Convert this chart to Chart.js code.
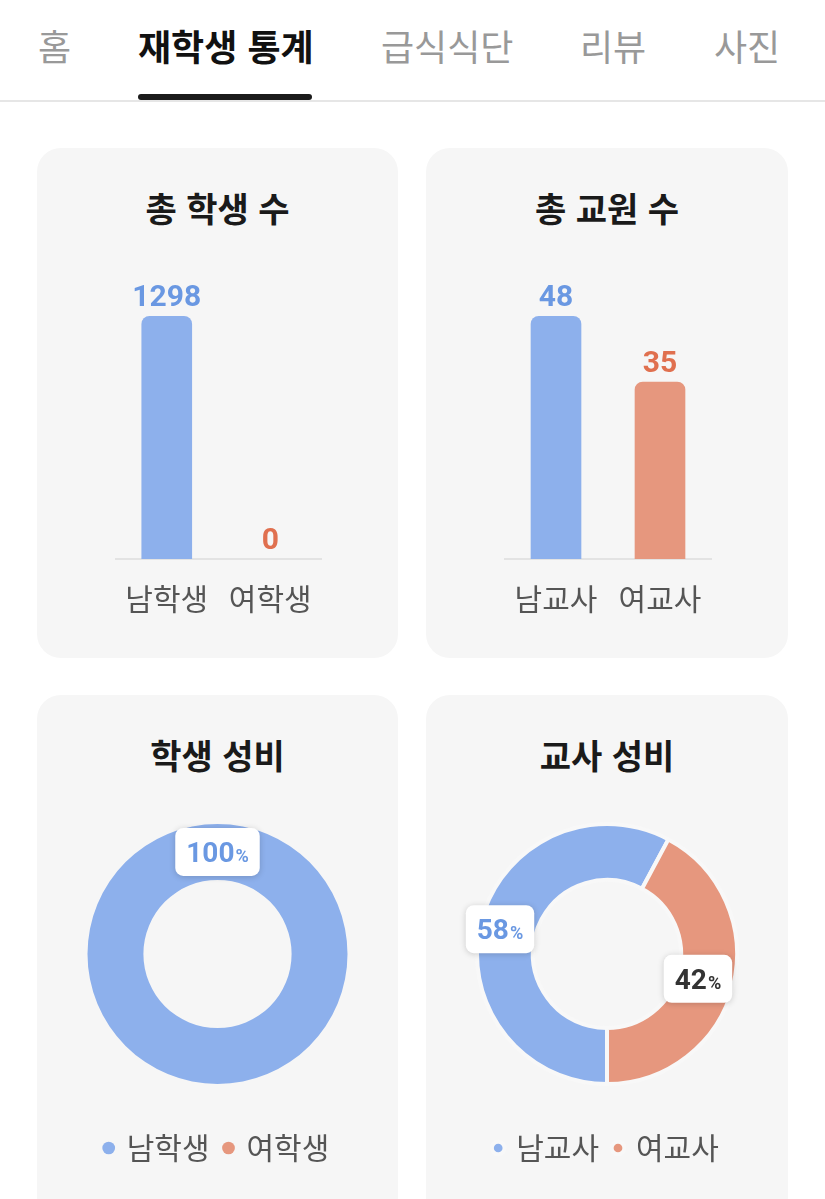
<!DOCTYPE html>
<html lang="ko">
<head>
<meta charset="utf-8">
<title>재학생 통계</title>
<script src="https://cdn.jsdelivr.net/npm/chart.js@4.4.1/dist/chart.umd.min.js"></script>
<style>
  body {
    margin: 0;
    width: 825px;
    height: 1199px;
    overflow: hidden;
    background: #fff;
    position: relative;
    font-family: "Noto Sans CJK KR", "Noto Sans", sans-serif;
  }
  .tab {
    position: absolute;
    top: 20px;
    height: 50px;
    line-height: 50px;
    font-size: 36px;
    color: #999;
    white-space: nowrap;
  }
  .tab.on { color: #111; font-weight: bold; }
  .tabbar {
    position: absolute;
    left: 138px; top: 94px;
    width: 174px; height: 6px;
    border-radius: 3px;
    background: #1b1b1b;
  }
  .navline {
    position: absolute;
    left: 0; top: 100px;
    width: 825px; height: 2px;
    background: #e6e6e6;
  }
  .card {
    position: absolute;
    background: #f6f6f6;
    border-radius: 24px;
  }
  .title {
    position: absolute;
    height: 50px;
    line-height: 50px;
    text-align: center;
    font-size: 34px;
    font-weight: bold;
    color: #1a1a1a;
    white-space: nowrap;
  }
  canvas { position: absolute; }
</style>
</head>
<body>

<div class="tab" style="left:38px">홈</div>
<div class="tab on" style="left:138px">재학생 통계</div>
<div class="tab" style="left:381px">급식식단</div>
<div class="tab" style="left:580px">리뷰</div>
<div class="tab" style="left:714px">사진</div>
<div class="tabbar"></div>
<div class="navline"></div>

<div class="card" style="left:37px;top:148px;width:361px;height:510px"></div>
<div class="card" style="left:426px;top:148px;width:362px;height:510px"></div>
<div class="card" style="left:37px;top:695px;width:361px;height:540px"></div>
<div class="card" style="left:426px;top:695px;width:362px;height:540px"></div>

<div class="title" style="left:37px;top:183px;width:361px">총 학생 수</div>
<div class="title" style="left:426px;top:183px;width:362px">총 교원 수</div>
<div class="title" style="left:37px;top:730px;width:361px">학생 성비</div>
<div class="title" style="left:426px;top:730px;width:362px">교사 성비</div>

<canvas id="studentBar" style="left:115px;top:250px" width="207" height="406"></canvas>
<canvas id="teacherBar" style="left:504px;top:250px" width="208" height="406"></canvas>
<canvas id="studentPie" style="left:37px;top:791px" width="361" height="382"></canvas>
<canvas id="teacherPie" style="left:426px;top:791px" width="362" height="382"></canvas>

<script>
/* 데이터 */
const studentLabels = ['남학생', '여학생'];
const studentCounts = [1298, 0];
const teacherLabels = ['남교사', '여교사'];
const teacherCounts = [48, 35];

/* 색상 */
const fillColors = ['#8db0ec', '#e6977e'];
const valueColors = ['#6a98e2', '#e0704f'];
const pctColors = ['#6a98e2', '#333333'];

const FONT_NUM = 'Roboto, "Noto Sans CJK KR", sans-serif';
const FONT_KR = '"Noto Sans CJK KR", "Noto Sans", sans-serif';

/* 막대 위 숫자 */
const barValueLabels = {
    id: 'barValueLabels',
    afterDatasetsDraw(chart) {
        const ctx = chart.ctx;
        const values = chart.data.datasets[0].data;
        chart.getDatasetMeta(0).data.forEach((bar, i) => {
            ctx.save();
            ctx.font = 'bold 30px ' + FONT_NUM;
            ctx.fillStyle = valueColors[i];
            ctx.textAlign = 'center';
            ctx.textBaseline = 'alphabetic';
            ctx.fillText(values[i], bar.x, bar.y - 10);
            ctx.restore();
        });
    }
};

/* 도넛 퍼센트 박스 */
const pctLabels = {
    id: 'pctLabels',
    afterDatasetsDraw(chart, args, opts) {
        const ctx = chart.ctx;
        const values = chart.data.datasets[0].data;
        const total = values.reduce((a, b) => a + b, 0);
        const shift = opts.shiftX || 0;
        chart.getDatasetMeta(0).data.forEach((arc, i) => {
            if (!values[i]) return;
            const p = arc.tooltipPosition();
            const cx = p.x + shift;
            const num = String(Math.round(values[i] / total * 100));
            ctx.save();
            ctx.font = 'bold 28px ' + FONT_NUM;
            const wNum = ctx.measureText(num).width;
            ctx.font = 'bold 18px ' + FONT_NUM;
            const wPct = ctx.measureText('%').width;
            const w = wNum + wPct + 1 + 22;
            const h = 48;
            ctx.shadowColor = 'rgba(0,0,0,0.18)';
            ctx.shadowBlur = 6;
            ctx.shadowOffsetY = 1;
            ctx.fillStyle = '#fff';
            ctx.beginPath();
            ctx.roundRect(cx - w / 2, p.y - h / 2, w, h, 8);
            ctx.fill();
            ctx.shadowColor = 'transparent';
            ctx.fillStyle = pctColors[i];
            ctx.textAlign = 'left';
            ctx.textBaseline = 'alphabetic';
            const x0 = cx - (wNum + wPct + 1) / 2;
            ctx.font = 'bold 28px ' + FONT_NUM;
            ctx.fillText(num, x0, p.y + 10);
            ctx.font = 'bold 18px ' + FONT_NUM;
            ctx.fillText('%', x0 + wNum + 1, p.y + 10);
            ctx.restore();
        });
    }
};

const barConfig = (labels, counts) => ({
    type: 'bar',
    data: {
        labels: labels,
        datasets: [{
            data: counts,
            backgroundColor: c => (c.raw ? fillColors[c.dataIndex] : 'transparent'),
            borderRadius: c => (c.raw ? 8 : 0),
            borderSkipped: 'bottom',
            barThickness: 50
        }]
    },
    options: {
        responsive: false,
        animation: false,
        layout: { padding: { top: 20, bottom: 17, left: 0, right: 0 } },
        plugins: { legend: { display: false }, tooltip: { enabled: false } },
        scales: {
            x: {
                grid: { display: false, drawTicks: false },
                border: { display: true, color: '#e3e3e3', width: 2 },
                ticks: { color: '#555', padding: 22, font: { size: 30, family: FONT_KR } },
                // 라벨 때문에 좌우로 줄어드는 것 방지
                afterFit: s => { s.paddingLeft = 0; s.paddingRight = 0; }
            },
            y: {
                display: false,
                min: 0,
                max: Math.max(...counts) / 0.84
            }
        }
    },
    plugins: [barValueLabels]
});

const pieConfig = (labels, counts, border, shiftX) => ({
    type: 'doughnut',
    data: {
        labels: labels,
        datasets: [{
            data: counts,
            backgroundColor: fillColors,
            borderColor: '#f8f8f8',
            borderWidth: border
        }]
    },
    options: {
        responsive: false,
        animation: false,
        rotation: 180,
        radius: 130,
        cutout: '57%',
        plugins: {
            tooltip: { enabled: false },
            pctLabels: { shiftX: shiftX },
            legend: {
                position: 'bottom',
                labels: {
                    usePointStyle: true,
                    pointStyle: 'circle',
                    boxWidth: 6,
                    boxHeight: 9,
                    padding: 16,
                    color: '#555',
                    font: { size: 30, family: FONT_KR }
                }
            }
        }
    },
    plugins: [pctLabels]
});

new Chart(document.getElementById('studentBar'), barConfig(studentLabels, studentCounts));
new Chart(document.getElementById('teacherBar'), barConfig(teacherLabels, teacherCounts));
new Chart(document.getElementById('studentPie'), pieConfig(studentLabels, studentCounts, 0, 0));
new Chart(document.getElementById('teacherPie'), pieConfig(teacherLabels, teacherCounts, 4, -8));
</script>
</body>
</html>
